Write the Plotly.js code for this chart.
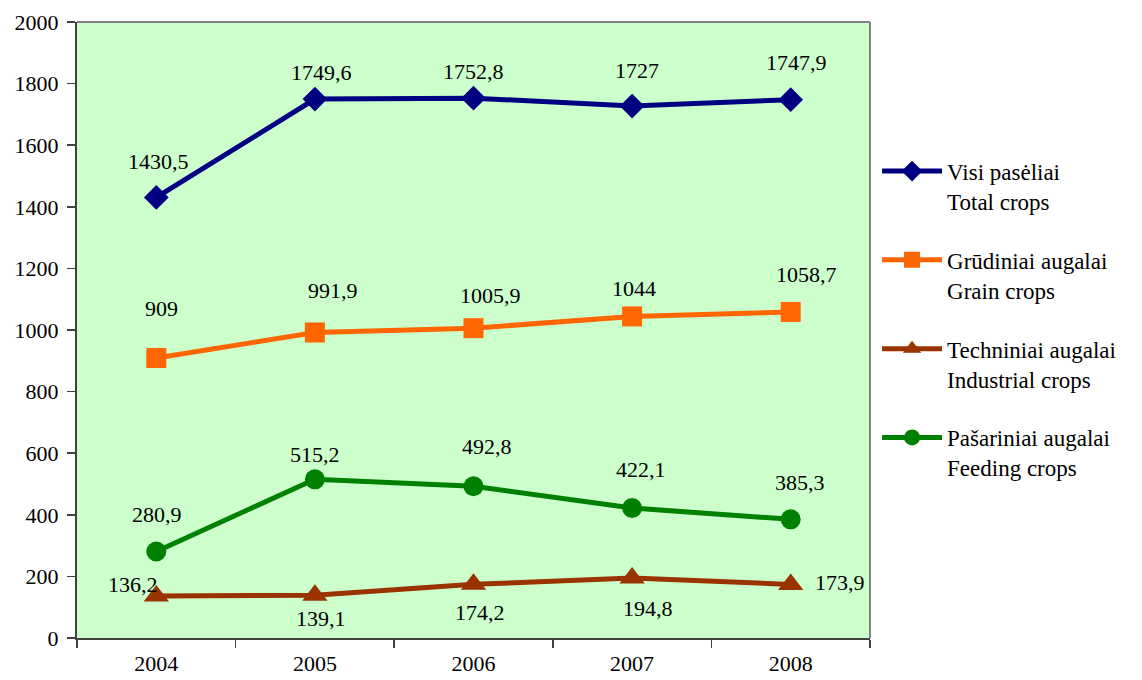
<!DOCTYPE html>
<html>
<head>
<meta charset="utf-8">
<script src="https://cdn.plot.ly/plotly-3.0.1.min.js"></script>
<style>html,body{margin:0;padding:0;background:#fff;}#chart{width:1142px;height:680px;}</style>
</head>
<body>
<div id="chart"></div>
<script>
// ---- data ----
const years = ['2004', '2005', '2006', '2007', '2008'];
const totalCrops = [1430.5, 1749.6, 1752.8, 1727, 1747.9];
const grainCrops = [909, 991.9, 1005.9, 1044, 1058.7];
const industrialCrops = [136.2, 139.1, 174.2, 194.8, 173.9];
const feedingCrops = [280.9, 515.2, 492.8, 422.1, 385.3];
const seriesNames = [
  'Visi pasėliai<br>Total crops',
  'Grūdiniai augalai<br>Grain crops',
  'Techniniai augalai<br>Industrial crops',
  'Pašariniai augalai<br>Feeding crops'
];
const yTicks = [0, 200, 400, 600, 800, 1000, 1200, 1400, 1600, 1800, 2000];

// ---- styles ----
const FONT = 'Liberation Serif';
const colors = ['#000080', '#FF6600', '#993300', '#008000'];
const symbols = ['diamond', 'square', 'triangle-up', 'circle'];
const msizes = [19, 20, 22, 20];
// label offsets in pixels [dx, dy] (style only)
const labelOffsets = [
  [[2, 36], [7, 27], [0, 27], [5, 36], [6, 37]],
  [[5, 50], [18, 42], [17, 33], [2, 28], [16, 37]],
  [[-23, 12], [6, -23], [6, -28], [16, -30], [49, 2]],
  [[1, 37], [0, 25], [13, 40], [9, 38], [9, 37]]
];

const allSeries = [totalCrops, grainCrops, industrialCrops, feedingCrops];

const traces = allSeries.map((vals, i) => ({
  type: 'scatter',
  mode: 'lines+markers',
  x: years,
  y: vals,
  name: seriesNames[i],
  legendgroup: 'g' + i,
  line: {color: colors[i], width: 5},
  marker: {color: colors[i], symbol: symbols[i], size: msizes[i]},
  hoverinfo: 'x+y'
}));

const fmt = v => String(v).replace('.', ',');
const annotations = [];
allSeries.forEach((vals, i) => {
  vals.forEach((v, j) => {
    annotations.push({
      x: j, y: v, xref: 'x', yref: 'y',
      text: fmt(v), showarrow: false,
      xshift: labelOffsets[i][j][0], yshift: labelOffsets[i][j][1],
      font: {family: FONT, size: 22, color: '#000000'}
    });
  });
});

const layout = {
  width: 1142, height: 680,
  margin: {l: 77, r: 272, t: 22, b: 42, pad: 0},
  paper_bgcolor: '#ffffff',
  plot_bgcolor: '#CCFFCC',
  font: {family: FONT, size: 22, color: '#000000'},
  showlegend: true,
  legend: {
    xref: 'container', yref: 'container',
    x: 0.768, y: 0.78, xanchor: 'left', yanchor: 'top',
    font: {family: FONT, size: 23, color: '#000000'},
    traceorder: 'grouped', tracegroupgap: 26, itemwidth: 60,
    valign: 'top', bgcolor: 'rgba(0,0,0,0)', borderwidth: 0
  },
  xaxis: {
    type: 'category', range: [-0.5, 4.5],
    tickson: 'boundaries', ticks: 'outside', ticklen: 8, tickwidth: 1.5, tickcolor: '#404040',
    ticklabelstandoff: 5,
    showline: true, linecolor: '#404040', linewidth: 2,
    showgrid: false, zeroline: false,
    tickfont: {family: FONT, size: 22, color: '#000000'}
  },
  yaxis: {
    range: [0, 2000], tickvals: yTicks, ticktext: yTicks.map(String),
    ticks: 'outside', ticklen: 8, tickwidth: 1.5, tickcolor: '#404040',
    ticklabelstandoff: 4,
    showline: true, linecolor: '#404040', linewidth: 2,
    showgrid: false, zeroline: false,
    tickfont: {family: FONT, size: 22, color: '#000000'}
  },
  shapes: [
    {type: 'line', xref: 'paper', yref: 'paper', x0: 0, x1: 1, y0: 1, y1: 1, line: {color: '#808080', width: 2}},
    {type: 'line', xref: 'paper', yref: 'paper', x0: 1, x1: 1, y0: 0, y1: 1, line: {color: '#808080', width: 2}}
  ],
  annotations: annotations
};

Plotly.newPlot('chart', traces, layout, {displayModeBar: false, staticPlot: true});
</script>
</body>
</html>
